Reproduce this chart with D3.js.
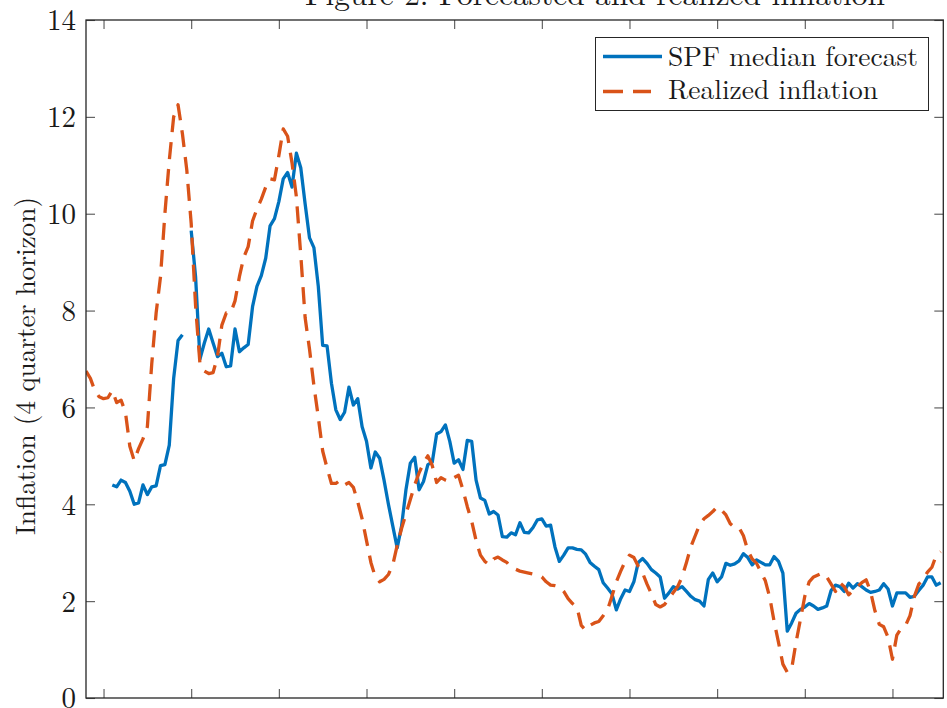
<!DOCTYPE html>
<html><head><meta charset="utf-8">
<script src="https://cdn.jsdelivr.net/npm/d3@7"></script>
<style>
body{margin:0;background:#fff}
svg text{font-family:'Latin Modern Roman','Liberation Serif',serif;fill:#1a1a1a}
</style>
</head><body>
<svg id="chart" width="947" height="708"></svg>
<script>
// ---- data (quarterly, starting 1969Q1) ----
const firstYear = 1969.0;
const realized = [
 6.75,6.6,6.35,6.22,6.18,6.2,6.35,6.1,6.15,5.9,
 5.2,4.9,5.15,5.35,5.6,6.9,7.95,8.7,10.0,11.1,
 12.0,12.25,11.65,10.9,9.8,8.1,6.9,6.75,6.7,6.72,
 7.05,7.7,7.95,7.95,8.2,8.7,9.1,9.32,9.85,10.1,
 10.3,10.55,10.72,10.7,11.2,11.75,11.6,11.05,10.35,9.15,
 7.85,7.2,6.45,5.8,5.1,4.75,4.43,4.43,4.5,4.4,
 4.45,4.35,4.05,3.7,3.25,2.8,2.5,2.4,2.45,2.55,
 2.75,3.15,3.5,3.8,4.1,4.4,4.65,4.85,5.0,4.8,
 4.45,4.55,4.5,4.47,4.55,4.6,4.3,3.95,3.65,3.25,
 2.95,2.82,2.75,2.87,2.91,2.85,2.8,2.7,2.66,2.62,
 2.6,2.58,2.56,2.54,2.5,2.4,2.33,2.32,2.3,2.2,
 2.05,1.95,1.88,1.5,1.4,1.5,1.55,1.58,1.7,1.82,
 2.1,2.4,2.62,2.82,2.95,2.9,2.72,2.58,2.35,2.15,
 1.93,1.88,1.93,2.05,2.18,2.3,2.5,2.8,3.12,3.35,
 3.58,3.7,3.77,3.85,3.95,3.88,3.78,3.6,3.52,3.52,
 3.35,3.05,2.87,2.78,2.6,2.42,2.08,1.58,1.15,0.7,
 0.53,0.6,1.15,1.62,2.1,2.4,2.5,2.54,2.58,2.5,
 2.35,2.2,2.38,2.3,2.13,2.22,2.3,2.38,2.44,2.2,
 1.8,1.52,1.47,1.25,0.8,1.3,1.44,1.5,1.7,2.1,
 2.35,2.45,2.6,2.7,2.95,3.02
];
const spf = [
 null,null,null,null,null,null,4.4,4.36,4.5,4.45,
 4.27,4.0,4.03,4.4,4.2,4.36,4.38,4.8,4.82,5.22,
 6.6,7.38,7.5,null,9.65,8.7,7.0,7.33,7.62,7.33,
 7.05,7.12,6.84,6.86,7.62,7.15,7.23,7.3,8.08,8.5,
 8.72,9.08,9.75,9.9,10.25,10.72,10.85,10.55,11.25,10.95,
 10.2,9.5,9.3,8.5,7.28,7.27,6.5,5.95,5.75,5.9,
 6.42,6.05,6.18,5.6,5.3,4.75,5.08,4.95,4.5,4.0,
 3.55,3.1,3.55,4.3,4.85,4.97,4.3,4.47,4.82,4.87,
 5.45,5.5,5.64,5.3,4.85,4.92,4.72,5.32,5.3,4.5,
 4.13,4.08,3.8,3.85,3.78,3.33,3.32,3.41,3.37,3.62,
 3.42,3.41,3.52,3.68,3.7,3.55,3.57,3.12,2.82,2.95,
 3.1,3.1,3.07,3.06,2.97,2.8,2.72,2.65,2.38,2.27,
 2.15,1.82,2.05,2.23,2.2,2.4,2.8,2.88,2.78,2.65,
 2.58,2.5,2.06,2.17,2.3,2.25,2.3,2.2,2.1,2.03,
 2.0,1.9,2.45,2.58,2.4,2.5,2.78,2.74,2.77,2.83,
 2.98,2.9,2.75,2.85,2.8,2.75,2.75,2.92,2.82,2.58,
 1.38,1.55,1.75,1.83,1.88,1.95,1.9,1.83,1.86,1.9,
 2.22,2.33,2.3,2.2,2.37,2.27,2.36,2.3,2.23,2.18,
 2.2,2.23,2.36,2.25,1.9,2.17,2.17,2.17,2.08,2.1,
 2.22,2.33,2.5,2.5,2.33,2.38
];
const yTicks = [0,2,4,6,8,10,12,14];
const xTicks = [1970,1975,1980,1985,1990,1995,2000,2005,2010,2015];
const seriesNames = ["SPF median forecast","Realized inflation"];
const titleText = "Figure 2: Forecasted and realized inflation";
const yLabel = "Inflation (4 quarter horizon)";

// ---- layout ----
const FONT = "'Latin Modern Roman','Liberation Serif',serif";
const L = 86, R = 943.3, T = 20, B = 698;
const svg = d3.select("#chart");
const x = d3.scaleLinear().domain([1969.0, 2017.9]).range([L, R]);
const y = d3.scaleLinear().domain([0, 14]).range([B, T]);
const axisCol = "#262626";
const blue = "#0072BD", orange = "#D95319";

svg.append("defs").append("clipPath").attr("id","clip")
  .append("rect").attr("x",L).attr("y",T).attr("width",R-L).attr("height",B-T);

// title (partly cut off at top, as in the reference)
svg.append("text").attr("x",305).attr("y",5).attr("font-size",30).attr("font-family",FONT)
  .attr("textLength",580).attr("lengthAdjust","spacingAndGlyphs").text(titleText);

// y label
svg.append("text").attr("transform","translate(35,366) rotate(-90)").attr("font-family",FONT)
  .attr("text-anchor","middle").attr("font-size",27.5)
  .attr("textLength",338).attr("lengthAdjust","spacingAndGlyphs").text(yLabel);

// lines
const dates = realized.map((_, i) => firstYear + 0.25 * i);
const line = d3.line().defined(d => d[1] != null)
  .x(d => x(d[0])).y(d => y(d[1]));
const g = svg.append("g").attr("clip-path","url(#clip)");
g.append("path").datum(dates.map((d,i)=>[d, spf[i]]))
  .attr("d", line).attr("fill","none").attr("stroke",blue)
  .attr("stroke-width",3.3).attr("stroke-linejoin","round");
g.append("path").datum(dates.map((d,i)=>[d, realized[i]]))
  .attr("d", line).attr("fill","none").attr("stroke",orange)
  .attr("stroke-width",3.3).attr("stroke-dasharray","17,10").attr("stroke-linejoin","round");

// axes (box with mirrored inward ticks)
const tl = 9;
const axLeft = d3.axisLeft(y).tickValues(yTicks).tickSizeInner(-tl).tickSizeOuter(0).tickPadding(10);
const axRight = d3.axisRight(y).tickValues(yTicks).tickSizeInner(-tl).tickSizeOuter(0).tickFormat("");
const axBottom = d3.axisBottom(x).tickValues(xTicks).tickSizeInner(-tl).tickSizeOuter(0).tickFormat("");
const axTop = d3.axisTop(x).tickValues(xTicks).tickSizeInner(-tl).tickSizeOuter(0).tickFormat("");
function styleAxis(sel){
  sel.attr("font-family",FONT);
  sel.select(".domain").remove();
  sel.selectAll(".tick line").attr("stroke","#555").attr("stroke-width",1.1);
}
const gl = svg.append("g").attr("transform",`translate(${L},0)`).call(axLeft).call(styleAxis);
gl.selectAll(".tick text").attr("font-size",29).attr("fill","#1a1a1a")
  .attr("font-family",FONT).attr("dy","0.34em");
svg.append("g").attr("transform",`translate(${R},0)`).call(axRight).call(styleAxis);
svg.append("g").attr("transform",`translate(0,${B})`).call(axBottom).call(styleAxis);
svg.append("g").attr("transform",`translate(0,${T})`).call(axTop).call(styleAxis);
svg.append("rect").attr("x",L).attr("y",T).attr("width",R-L).attr("height",B-T)
  .attr("fill","none").attr("stroke",axisCol).attr("stroke-width",1.3);

// legend
const lg = svg.append("g");
lg.append("rect").attr("x",595.5).attr("y",37.5).attr("width",333).attr("height",73)
  .attr("fill","#fff").attr("stroke",axisCol).attr("stroke-width",1);
lg.append("line").attr("x1",603).attr("x2",662).attr("y1",56.5).attr("y2",56.5)
  .attr("stroke",blue).attr("stroke-width",3.3);
lg.append("line").attr("x1",603).attr("x2",651).attr("y1",91.5).attr("y2",91.5)
  .attr("stroke",orange).attr("stroke-width",3.3).attr("stroke-dasharray","20,10");
lg.append("text").attr("x",668).attr("y",65.5).attr("font-size",27.5).attr("font-family",FONT)
  .attr("textLength",250).attr("lengthAdjust","spacingAndGlyphs").text(seriesNames[0]);
lg.append("text").attr("x",668).attr("y",98.5).attr("font-size",27.5).attr("font-family",FONT)
  .attr("textLength",210).attr("lengthAdjust","spacingAndGlyphs").text(seriesNames[1]);
</script>
</body></html>
